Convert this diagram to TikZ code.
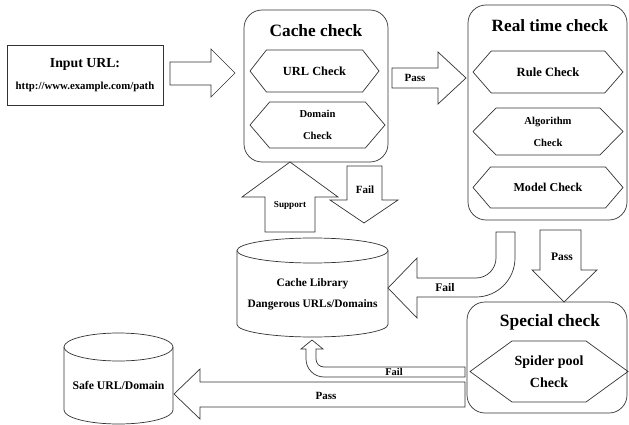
\documentclass[tikz,border=0pt]{standalone}
\usepackage{fontspec}
\setmainfont{Liberation Serif}
\usetikzlibrary{positioning,shapes.geometric,shapes.symbols}

\begin{document}
\begin{tikzpicture}[x = 1pt, y = -1pt, line width = .7pt, draw = black!80,
    every node/.style = { font = \bfseries, align = center },
    group/.style = { draw = black!80, rounded corners = 18pt },
    check/.style = { draw = black!80, shape = signal, signal to = west and east, inner sep = 0pt },
    store/.style = { draw = black!80, fill = white },
    blockarrow/.style = { draw = black!80, fill = white }]
  \useasboundingbox (0,0) rectangle (629,425);

  % input
  \node [draw = black!80, minimum width = 156pt, minimum height = 60pt] (input) at (85,75) {};
  \node [font = \fontsize{13.8}{15}\bfseries] (inputtitle) at (85,64) {Input URL:};
  \node [font = \fontsize{10.8}{12}\bfseries] (inputurl) at (85,87) {http://www.example.com/path};

  % cache check
  \node [group, minimum width = 144pt, minimum height = 152pt] (cache) at (316,86) {};
  \node [font = \fontsize{17.3}{19}\bfseries] (cachetitle) at (316,31) {Cache check};
  \node [check, minimum width = 129pt, minimum height = 42pt, signal pointer angle = 104,
         font = \fontsize{12.4}{14}\bfseries] (url) at (314.5,71) {URL Check};
  \node [check, minimum width = 135pt, minimum height = 46pt, signal pointer angle = 99,
         font = \fontsize{10.6}{12}\bfseries] (domain) at (317.5,125) {Domain\\[10pt]Check};

  % real time check
  \node [group, minimum width = 159pt, minimum height = 215pt] (real) at (547.5,112.5) {};
  \node [font = \fontsize{17.2}{19}\bfseries] (realtitle) at (550,26) {Real time check};
  \node [check, minimum width = 150pt, minimum height = 42pt, signal pointer angle = 98,
         font = \fontsize{12.6}{14}\bfseries] (rule) at (548,72) {Rule Check};
  \node [check, minimum width = 150pt, minimum height = 47pt, signal pointer angle = 91,
         font = \fontsize{10.6}{12}\bfseries] (algo) at (548,131.5) {Algorithm\\[10pt]Check};
  \node [check, minimum width = 150pt, minimum height = 41pt, signal pointer angle = 99,
         font = \fontsize{12.1}{14}\bfseries] (model) at (548,187.5) {Model Check};

  % special check
  \node [group, minimum width = 160pt, minimum height = 111pt] (special) at (547,357.5) {};
  \node [font = \fontsize{17.4}{19}\bfseries] (specialtitle) at (550,322) {Special check};
  \node [check, minimum width = 158pt, minimum height = 61pt, signal pointer angle = 72,
         font = \fontsize{14}{16}\bfseries] (spider) at (549,371.5) {Spider pool\\[6pt]Check};

  % stores
  \draw [store] (237,250.5) -- (237,324.5) arc (180:0:75.5 and 12.5) -- (388,250.5);
  \draw [store] (312.5,250.5) ellipse (75.5 and 12.5);
  \node [font = \fontsize{11.4}{13}\bfseries] (lib) at (312.5,294) {Cache Library\\[8pt]Dangerous URLs/Domains};
  \draw [store] (64,347) -- (64,410) arc (180:0:54.5 and 14) -- (173,347);
  \draw [store] (118.5,347) ellipse (54.5 and 14);
  \node [font = \fontsize{11.7}{13}\bfseries] (safe) at (118.5,385) {Safe URL/Domain};

  % block arrows
  \draw [blockarrow] (170,62) -- (211,62) -- (211,49) -- (235,73) -- (211,97) -- (211,85) -- (170,85) -- cycle;
  \draw [blockarrow] (392,68) -- (438,68) -- (438,52) -- (466,78) -- (438,104) -- (438,88) -- (392,88) -- cycle;
  \node [font = \fontsize{11}{12}\bfseries] (passa) at (415,78) {Pass};

  \draw [blockarrow] (265,232) -- (265,197) -- (242,197) -- (290,162) -- (338,197) -- (315,197) -- (315,232) -- cycle;
  \node [font = \fontsize{9.2}{10}\bfseries] (support) at (290,205) {Support};

  \draw [blockarrow] (347,166) -- (382,166) -- (382,200) -- (398,200) -- (364,223) -- (330,200) -- (347,200) -- cycle;
  \node [font = \fontsize{11}{12}\bfseries] (faila) at (365,190) {Fail};

  \draw [blockarrow] (540,230) -- (581,230) -- (581,270) -- (597,270) -- (564,302) -- (532,270) -- (540,270) -- cycle;
  \node [font = \fontsize{11.5}{12}\bfseries] (passb) at (562,257) {Pass};

  \draw [blockarrow] (496,232) -- (496,258) arc (0:90:20) -- (417,278) -- (417,258) -- (388,288)
    -- (417,318) -- (417,297) -- (476,297) arc (90:0:39) -- (515,232) -- cycle;
  \node [font = \fontsize{11.6}{12}\bfseries] (failb) at (445,288) {Fail};

  \draw [blockarrow] (306,349) -- (306,359) arc (180:90:18) -- (465,377) -- (465,367) -- (324,367)
    arc (90:180:8) -- (316,349) -- (323,349) -- (312,340) -- (301,349) -- cycle;
  \node [font = \fontsize{10.4}{11}\bfseries] (failc) at (394,372) {Fail};

  \draw [blockarrow] (465,382) -- (200,382) -- (200,369) -- (174,394) -- (200,419) -- (200,407) -- (465,407) -- cycle;
  \node [font = \fontsize{11}{12}\bfseries] (passc) at (326,396) {Pass};
\end{tikzpicture}
\end{document}
